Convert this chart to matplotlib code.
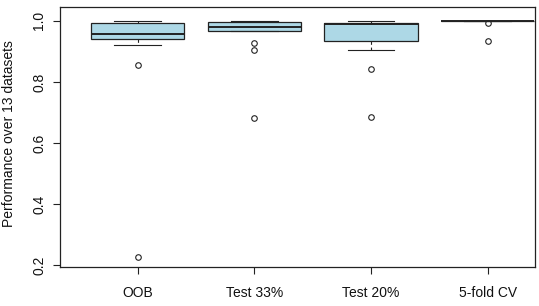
import matplotlib
matplotlib.use("Agg")
import matplotlib.pyplot as plt

plt.rcParams['font.family'] = ['Liberation Sans', 'DejaVu Sans']

categories = ["OOB", "Test 33%", "Test 20%", "5-fold CV"]
medians = [0.9575, 0.980, 0.989, 1.0]
q1 = [0.939, 0.967, 0.934, 1.0]
q3 = [0.9915, 0.9948, 0.9915, 1.0]
whisker_low = [0.9206, 0.967, 0.905, 1.0]
whisker_high = [1.0, 0.999, 1.0, 1.0]
outliers = [[0.855, 0.227], [0.928, 0.904, 0.681], [0.841, 0.686], [0.9935, 0.935]]
y_ticks = [0.2, 0.4, 0.6, 0.8, 1.0]
y_label = "Performance over 13 datasets"

fig = plt.figure(figsize=(5.39, 3.06), dpi=100)
ax = fig.add_axes([60/539, 1-266.7/306, 475/539, 260/306])

stats = []
for i, name in enumerate(categories):
    stats.append(dict(med=medians[i], q1=q1[i], q3=q3[i],
                      whislo=whisker_low[i], whishi=whisker_high[i],
                      fliers=outliers[i], label=name))

positions = list(range(1, len(categories) + 1))
ax.bxp(stats, positions=positions, widths=0.8, capwidths=0.4,
       patch_artist=True,
       boxprops=dict(facecolor='#ADD8E6', edgecolor='#222222', linewidth=0.9),
       medianprops=dict(color='#222222', linewidth=1.4),
       whiskerprops=dict(color='#222222', linewidth=0.8, linestyle=(0, (3, 2.5))),
       capprops=dict(color='#222222', linewidth=0.8),
       flierprops=dict(marker='o', markerfacecolor='none', markeredgecolor='#222222',
                       markersize=4, markeredgewidth=0.8))

ax.set_xlim(0.334, 4.405)
ax.set_ylim(0.196, 1.0458)
ax.set_yticks(y_ticks)
ax.set_yticklabels([f"{v:.1f}" for v in y_ticks], rotation=90, va='center', fontsize=10)
ax.set_xticks(positions)
ax.set_xticklabels(categories, fontsize=10)
ax.tick_params(axis='both', length=5, width=0.8, color='#222222', labelcolor='#111111')
ax.tick_params(axis='y', pad=5)
ax.tick_params(axis='x', pad=9)
for s in ax.spines.values():
    s.set_linewidth(0.9)
    s.set_color('#222222')

fig.text(9/539, 1-134/306, y_label, rotation=90, ha='center', va='center', fontsize=10,
         color='#111111')

fig.savefig("out.png", dpi=100)
